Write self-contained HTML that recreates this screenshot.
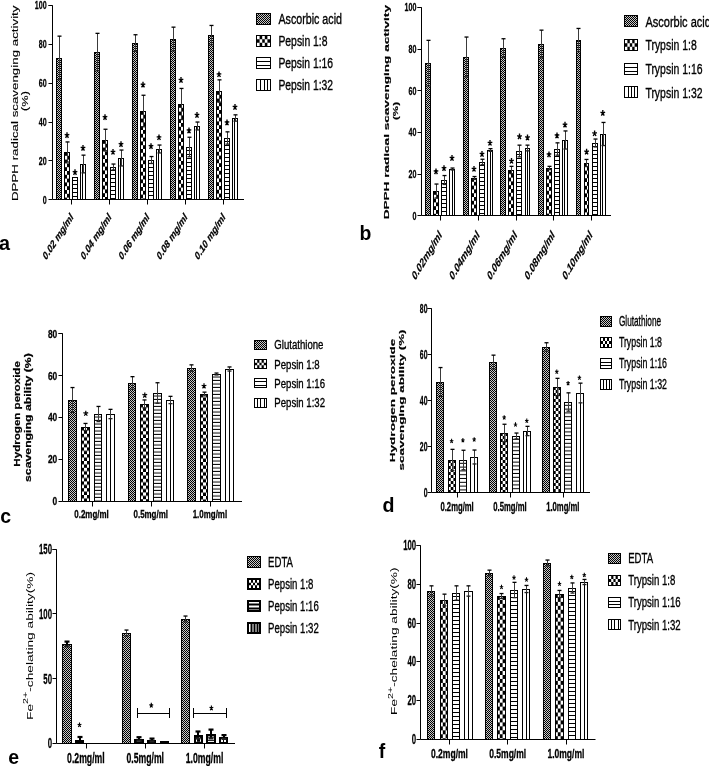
<!DOCTYPE html>
<html><head><meta charset="utf-8"><style>
html,body{margin:0;padding:0;background:#fff;overflow:hidden;}
svg{display:block;will-change:transform;}
text{font-family:"Liberation Sans",sans-serif;}
</style></head><body>
<svg width="709" height="766" viewBox="0 0 709 766">
<defs>
<pattern id="pAsc" patternUnits="userSpaceOnUse" width="2" height="2"><rect width="2" height="2" fill="#c8c8c8"/><rect width="1" height="1"/><rect x="1" y="1" width="1" height="1"/></pattern>
<pattern id="k1" patternUnits="userSpaceOnUse" x="64" y="152" width="6" height="7.6"><rect width="6" height="7.6" fill="#fff"/><rect width="3" height="3.8"/><rect x="3" y="3.8" width="3" height="3.8"/></pattern>
<pattern id="k2" patternUnits="userSpaceOnUse" x="72" y="177" width="4" height="4"><rect width="4" height="4" fill="#fff"/><rect y="3" width="4" height="1"/></pattern>
<pattern id="k4" patternUnits="userSpaceOnUse" x="102" y="140" width="6" height="7.6"><rect width="6" height="7.6" fill="#fff"/><rect width="3" height="3.8"/><rect x="3" y="3.8" width="3" height="3.8"/></pattern>
<pattern id="k5" patternUnits="userSpaceOnUse" x="110" y="167" width="4" height="4"><rect width="4" height="4" fill="#fff"/><rect y="3" width="4" height="1"/></pattern>
<pattern id="k7" patternUnits="userSpaceOnUse" x="140" y="111" width="6" height="7.6"><rect width="6" height="7.6" fill="#fff"/><rect width="3" height="3.8"/><rect x="3" y="3.8" width="3" height="3.8"/></pattern>
<pattern id="k8" patternUnits="userSpaceOnUse" x="148" y="160" width="4" height="4"><rect width="4" height="4" fill="#fff"/><rect y="3" width="4" height="1"/></pattern>
<pattern id="k10" patternUnits="userSpaceOnUse" x="178" y="104" width="6" height="7.6"><rect width="6" height="7.6" fill="#fff"/><rect width="3" height="3.8"/><rect x="3" y="3.8" width="3" height="3.8"/></pattern>
<pattern id="k11" patternUnits="userSpaceOnUse" x="186" y="147" width="4" height="4"><rect width="4" height="4" fill="#fff"/><rect y="3" width="4" height="1"/></pattern>
<pattern id="k13" patternUnits="userSpaceOnUse" x="216" y="91" width="6" height="7.6"><rect width="6" height="7.6" fill="#fff"/><rect width="3" height="3.8"/><rect x="3" y="3.8" width="3" height="3.8"/></pattern>
<pattern id="k14" patternUnits="userSpaceOnUse" x="224" y="138" width="4" height="4"><rect width="4" height="4" fill="#fff"/><rect y="3" width="4" height="1"/></pattern>
<pattern id="k16" patternUnits="userSpaceOnUse" x="433" y="191" width="6" height="7.6"><rect width="6" height="7.6" fill="#fff"/><rect width="3" height="3.8"/><rect x="3" y="3.8" width="3" height="3.8"/></pattern>
<pattern id="k17" patternUnits="userSpaceOnUse" x="441" y="180" width="4" height="4"><rect width="4" height="4" fill="#fff"/><rect y="3" width="4" height="1"/></pattern>
<pattern id="k19" patternUnits="userSpaceOnUse" x="471" y="178" width="6" height="7.6"><rect width="6" height="7.6" fill="#fff"/><rect width="3" height="3.8"/><rect x="3" y="3.8" width="3" height="3.8"/></pattern>
<pattern id="k20" patternUnits="userSpaceOnUse" x="479" y="162" width="4" height="4"><rect width="4" height="4" fill="#fff"/><rect y="3" width="4" height="1"/></pattern>
<pattern id="k22" patternUnits="userSpaceOnUse" x="508" y="170" width="6" height="7.6"><rect width="6" height="7.6" fill="#fff"/><rect width="3" height="3.8"/><rect x="3" y="3.8" width="3" height="3.8"/></pattern>
<pattern id="k23" patternUnits="userSpaceOnUse" x="516" y="151" width="4" height="4"><rect width="4" height="4" fill="#fff"/><rect y="3" width="4" height="1"/></pattern>
<pattern id="k25" patternUnits="userSpaceOnUse" x="546" y="168" width="6" height="7.6"><rect width="6" height="7.6" fill="#fff"/><rect width="3" height="3.8"/><rect x="3" y="3.8" width="3" height="3.8"/></pattern>
<pattern id="k26" patternUnits="userSpaceOnUse" x="554" y="149" width="4" height="4"><rect width="4" height="4" fill="#fff"/><rect y="3" width="4" height="1"/></pattern>
<pattern id="k28" patternUnits="userSpaceOnUse" x="584" y="163" width="6" height="7.6"><rect width="6" height="7.6" fill="#fff"/><rect width="3" height="3.8"/><rect x="3" y="3.8" width="3" height="3.8"/></pattern>
<pattern id="k29" patternUnits="userSpaceOnUse" x="592" y="143" width="4" height="4"><rect width="4" height="4" fill="#fff"/><rect y="3" width="4" height="1"/></pattern>
<pattern id="k31" patternUnits="userSpaceOnUse" x="81" y="427" width="6" height="6.8"><rect width="6" height="6.8" fill="#fff"/><rect width="3" height="3.4"/><rect x="3" y="3.4" width="3" height="3.4"/></pattern>
<pattern id="k32" patternUnits="userSpaceOnUse" x="94" y="414" width="4" height="3.5"><rect width="4" height="3.5" fill="#fff"/><rect y="2.5" width="4" height="1"/></pattern>
<pattern id="k34" patternUnits="userSpaceOnUse" x="140" y="404" width="6" height="6.8"><rect width="6" height="6.8" fill="#fff"/><rect width="3" height="3.4"/><rect x="3" y="3.4" width="3" height="3.4"/></pattern>
<pattern id="k35" patternUnits="userSpaceOnUse" x="153" y="393" width="4" height="3.5"><rect width="4" height="3.5" fill="#fff"/><rect y="2.5" width="4" height="1"/></pattern>
<pattern id="k37" patternUnits="userSpaceOnUse" x="200" y="394" width="6" height="6.8"><rect width="6" height="6.8" fill="#fff"/><rect width="3" height="3.4"/><rect x="3" y="3.4" width="3" height="3.4"/></pattern>
<pattern id="k38" patternUnits="userSpaceOnUse" x="212" y="374" width="4" height="3.5"><rect width="4" height="3.5" fill="#fff"/><rect y="2.5" width="4" height="1"/></pattern>
<pattern id="k40" patternUnits="userSpaceOnUse" x="448" y="460" width="5.4" height="6.0"><rect width="5.4" height="6.0" fill="#fff"/><rect width="2.7" height="3.0"/><rect x="2.7" y="3.0" width="2.7" height="3.0"/></pattern>
<pattern id="k41" patternUnits="userSpaceOnUse" x="459" y="460" width="4" height="3.8"><rect width="4" height="3.8" fill="#fff"/><rect y="2.8" width="4" height="1"/></pattern>
<pattern id="k43" patternUnits="userSpaceOnUse" x="500" y="433" width="5.4" height="6.0"><rect width="5.4" height="6.0" fill="#fff"/><rect width="2.7" height="3.0"/><rect x="2.7" y="3.0" width="2.7" height="3.0"/></pattern>
<pattern id="k44" patternUnits="userSpaceOnUse" x="512" y="436" width="4" height="3.8"><rect width="4" height="3.8" fill="#fff"/><rect y="2.8" width="4" height="1"/></pattern>
<pattern id="k46" patternUnits="userSpaceOnUse" x="553" y="387" width="5.4" height="6.0"><rect width="5.4" height="6.0" fill="#fff"/><rect width="2.7" height="3.0"/><rect x="2.7" y="3.0" width="2.7" height="3.0"/></pattern>
<pattern id="k47" patternUnits="userSpaceOnUse" x="564" y="402" width="4" height="3.8"><rect width="4" height="3.8" fill="#fff"/><rect y="2.8" width="4" height="1"/></pattern>
<pattern id="k49" patternUnits="userSpaceOnUse" x="75" y="740" width="6" height="6.8"><rect width="6" height="6.8" fill="#fff"/><rect width="3" height="3.4"/><rect x="3" y="3.4" width="3" height="3.4"/></pattern>
<pattern id="k50" patternUnits="userSpaceOnUse" x="134" y="739" width="6" height="6.8"><rect width="6" height="6.8" fill="#fff"/><rect width="3" height="3.4"/><rect x="3" y="3.4" width="3" height="3.4"/></pattern>
<pattern id="k51" patternUnits="userSpaceOnUse" x="147" y="740" width="4" height="3.55"><rect width="4" height="3.55" fill="#fff"/><rect y="2.55" width="4" height="1"/></pattern>
<pattern id="k53" patternUnits="userSpaceOnUse" x="194" y="735" width="6" height="6.8"><rect width="6" height="6.8" fill="#fff"/><rect width="3" height="3.4"/><rect x="3" y="3.4" width="3" height="3.4"/></pattern>
<pattern id="k54" patternUnits="userSpaceOnUse" x="206" y="734" width="4" height="3.55"><rect width="4" height="3.55" fill="#fff"/><rect y="2.55" width="4" height="1"/></pattern>
<pattern id="k56" patternUnits="userSpaceOnUse" x="440" y="600" width="5.6" height="7.9"><rect width="5.6" height="7.9" fill="#fff"/><rect width="2.8" height="3.95"/><rect x="2.8" y="3.95" width="2.8" height="3.95"/></pattern>
<pattern id="k57" patternUnits="userSpaceOnUse" x="452" y="593" width="4" height="4"><rect width="4" height="4" fill="#fff"/><rect y="3" width="4" height="1"/></pattern>
<pattern id="k59" patternUnits="userSpaceOnUse" x="497" y="596" width="5.6" height="7.9"><rect width="5.6" height="7.9" fill="#fff"/><rect width="2.8" height="3.95"/><rect x="2.8" y="3.95" width="2.8" height="3.95"/></pattern>
<pattern id="k60" patternUnits="userSpaceOnUse" x="510" y="590" width="4" height="4"><rect width="4" height="4" fill="#fff"/><rect y="3" width="4" height="1"/></pattern>
<pattern id="k62" patternUnits="userSpaceOnUse" x="555" y="594" width="5.6" height="7.9"><rect width="5.6" height="7.9" fill="#fff"/><rect width="2.8" height="3.95"/><rect x="2.8" y="3.95" width="2.8" height="3.95"/></pattern>
<pattern id="k63" patternUnits="userSpaceOnUse" x="568" y="588" width="4" height="4"><rect width="4" height="4" fill="#fff"/><rect y="3" width="4" height="1"/></pattern>
</defs>
<rect width="709" height="766" fill="#fff"/>
<path d="M48.5,5.5H52.5V199.5H244" fill="none" stroke="#000" stroke-width="1"/>
<line x1="48.5" y1="199.5" x2="52.5" y2="199.5" stroke="#000" stroke-width="1"/>
<text transform="translate(46.60,203.56) scale(0.610,1)" font-size="11.6" font-weight="bold" text-anchor="end" stroke="#000" stroke-width="0.3">0</text>
<line x1="48.5" y1="160.5" x2="52.5" y2="160.5" stroke="#000" stroke-width="1"/>
<text transform="translate(46.60,164.66) scale(0.610,1)" font-size="11.6" font-weight="bold" text-anchor="end" stroke="#000" stroke-width="0.3">20</text>
<line x1="48.5" y1="122.5" x2="52.5" y2="122.5" stroke="#000" stroke-width="1"/>
<text transform="translate(46.60,125.76) scale(0.610,1)" font-size="11.6" font-weight="bold" text-anchor="end" stroke="#000" stroke-width="0.3">40</text>
<line x1="48.5" y1="83.5" x2="52.5" y2="83.5" stroke="#000" stroke-width="1"/>
<text transform="translate(46.60,86.86) scale(0.610,1)" font-size="11.6" font-weight="bold" text-anchor="end" stroke="#000" stroke-width="0.3">60</text>
<line x1="48.5" y1="44.5" x2="52.5" y2="44.5" stroke="#000" stroke-width="1"/>
<text transform="translate(46.60,47.96) scale(0.610,1)" font-size="11.6" font-weight="bold" text-anchor="end" stroke="#000" stroke-width="0.3">80</text>
<line x1="48.5" y1="5.5" x2="52.5" y2="5.5" stroke="#000" stroke-width="1"/>
<text transform="translate(46.60,9.06) scale(0.610,1)" font-size="11.6" font-weight="bold" text-anchor="end" stroke="#000" stroke-width="0.3">100</text>
<line x1="71.5" y1="199.5" x2="71.5" y2="204.5" stroke="#000" stroke-width="1"/>
<line x1="109.5" y1="199.5" x2="109.5" y2="204.5" stroke="#000" stroke-width="1"/>
<line x1="147.5" y1="199.5" x2="147.5" y2="204.5" stroke="#000" stroke-width="1"/>
<line x1="185.5" y1="199.5" x2="185.5" y2="204.5" stroke="#000" stroke-width="1"/>
<line x1="223.5" y1="199.5" x2="223.5" y2="204.5" stroke="#000" stroke-width="1"/>
<rect x="56.5" y="58.5" width="5" height="141" fill="url(#pAsc)" stroke="#000" stroke-width="1"/>
<rect x="64.5" y="152.5" width="5" height="47" fill="url(#k1)" stroke="#000" stroke-width="1"/>
<rect x="72.5" y="177.5" width="5" height="22" fill="url(#k2)" stroke="#000" stroke-width="1"/>
<rect x="80.5" y="164.5" width="5" height="35" fill="#fff" stroke="#000" stroke-width="1"/>
<line x1="82.50" y1="164" x2="82.50" y2="200" stroke="#000" stroke-width="1"/>
<rect x="94.5" y="52.5" width="5" height="147" fill="url(#pAsc)" stroke="#000" stroke-width="1"/>
<rect x="102.5" y="140.5" width="5" height="59" fill="url(#k4)" stroke="#000" stroke-width="1"/>
<rect x="110.5" y="167.5" width="5" height="32" fill="url(#k5)" stroke="#000" stroke-width="1"/>
<rect x="118.5" y="158.5" width="5" height="41" fill="#fff" stroke="#000" stroke-width="1"/>
<line x1="120.50" y1="158" x2="120.50" y2="200" stroke="#000" stroke-width="1"/>
<rect x="132.5" y="43.5" width="5" height="156" fill="url(#pAsc)" stroke="#000" stroke-width="1"/>
<rect x="140.5" y="111.5" width="5" height="88" fill="url(#k7)" stroke="#000" stroke-width="1"/>
<rect x="148.5" y="160.5" width="5" height="39" fill="url(#k8)" stroke="#000" stroke-width="1"/>
<rect x="156.5" y="149.5" width="5" height="50" fill="#fff" stroke="#000" stroke-width="1"/>
<line x1="158.50" y1="149" x2="158.50" y2="200" stroke="#000" stroke-width="1"/>
<rect x="170.5" y="39.5" width="5" height="160" fill="url(#pAsc)" stroke="#000" stroke-width="1"/>
<rect x="178.5" y="104.5" width="5" height="95" fill="url(#k10)" stroke="#000" stroke-width="1"/>
<rect x="186.5" y="147.5" width="5" height="52" fill="url(#k11)" stroke="#000" stroke-width="1"/>
<rect x="194.5" y="126.5" width="5" height="73" fill="#fff" stroke="#000" stroke-width="1"/>
<line x1="196.50" y1="126" x2="196.50" y2="200" stroke="#000" stroke-width="1"/>
<rect x="208.5" y="35.5" width="5" height="164" fill="url(#pAsc)" stroke="#000" stroke-width="1"/>
<rect x="216.5" y="91.5" width="5" height="108" fill="url(#k13)" stroke="#000" stroke-width="1"/>
<rect x="224.5" y="138.5" width="5" height="61" fill="url(#k14)" stroke="#000" stroke-width="1"/>
<rect x="232.5" y="118.5" width="5" height="81" fill="#fff" stroke="#000" stroke-width="1"/>
<line x1="234.50" y1="118" x2="234.50" y2="200" stroke="#000" stroke-width="1"/>
<line x1="59.5" y1="36.1" x2="59.5" y2="79.9" stroke="#3a3a3a" stroke-width="1"/>
<rect x="57.5" y="35.5" width="4" height="1.3"/>
<rect x="57.5" y="79.2" width="4" height="1.3" fill="#222"/>
<line x1="67.5" y1="141.9" x2="67.5" y2="162.1" stroke="#3a3a3a" stroke-width="1"/>
<rect x="65.5" y="141.3" width="4" height="1.3"/>
<rect x="65.5" y="161.4" width="4" height="1.3" fill="#222"/>
<line x1="83.5" y1="155.1" x2="83.5" y2="172.9" stroke="#3a3a3a" stroke-width="1"/>
<rect x="81.5" y="154.5" width="4" height="1.3"/>
<rect x="81.5" y="172.2" width="4" height="1.3" fill="#222"/>
<line x1="97.5" y1="33.4" x2="97.5" y2="70.6" stroke="#3a3a3a" stroke-width="1"/>
<rect x="95.5" y="32.7" width="4" height="1.3"/>
<rect x="95.5" y="70.0" width="4" height="1.3" fill="#222"/>
<line x1="105.5" y1="129.3" x2="105.5" y2="150.7" stroke="#3a3a3a" stroke-width="1"/>
<rect x="103.5" y="128.6" width="4" height="1.3"/>
<rect x="103.5" y="150.1" width="4" height="1.3" fill="#222"/>
<line x1="113.5" y1="164.1" x2="113.5" y2="169.9" stroke="#3a3a3a" stroke-width="1"/>
<rect x="111.5" y="163.4" width="4" height="1.3"/>
<rect x="111.5" y="169.3" width="4" height="1.3" fill="#222"/>
<line x1="121.5" y1="150.1" x2="121.5" y2="165.9" stroke="#3a3a3a" stroke-width="1"/>
<rect x="119.5" y="149.4" width="4" height="1.3"/>
<rect x="119.5" y="165.3" width="4" height="1.3" fill="#222"/>
<line x1="135.5" y1="34.8" x2="135.5" y2="51.2" stroke="#3a3a3a" stroke-width="1"/>
<rect x="133.5" y="34.1" width="4" height="1.3"/>
<rect x="133.5" y="50.6" width="4" height="1.3" fill="#222"/>
<line x1="143.5" y1="95.2" x2="143.5" y2="126.8" stroke="#3a3a3a" stroke-width="1"/>
<rect x="141.5" y="94.6" width="4" height="1.3"/>
<rect x="141.5" y="126.1" width="4" height="1.3" fill="#222"/>
<line x1="151.5" y1="156.5" x2="151.5" y2="163.5" stroke="#3a3a3a" stroke-width="1"/>
<rect x="149.5" y="155.9" width="4" height="1.3"/>
<rect x="149.5" y="162.8" width="4" height="1.3" fill="#222"/>
<line x1="159.5" y1="145.0" x2="159.5" y2="153.0" stroke="#3a3a3a" stroke-width="1"/>
<rect x="157.5" y="144.4" width="4" height="1.3"/>
<rect x="157.5" y="152.3" width="4" height="1.3" fill="#222"/>
<line x1="173.5" y1="27.2" x2="173.5" y2="50.8" stroke="#3a3a3a" stroke-width="1"/>
<rect x="171.5" y="26.5" width="4" height="1.3"/>
<rect x="171.5" y="50.2" width="4" height="1.3" fill="#222"/>
<line x1="181.5" y1="88.4" x2="181.5" y2="119.6" stroke="#3a3a3a" stroke-width="1"/>
<rect x="179.5" y="87.8" width="4" height="1.3"/>
<rect x="179.5" y="118.9" width="4" height="1.3" fill="#222"/>
<line x1="189.5" y1="137.3" x2="189.5" y2="156.7" stroke="#3a3a3a" stroke-width="1"/>
<rect x="187.5" y="136.6" width="4" height="1.3"/>
<rect x="187.5" y="156.1" width="4" height="1.3" fill="#222"/>
<line x1="197.5" y1="122.1" x2="197.5" y2="129.9" stroke="#3a3a3a" stroke-width="1"/>
<rect x="195.5" y="121.4" width="4" height="1.3"/>
<rect x="195.5" y="129.3" width="4" height="1.3" fill="#222"/>
<line x1="211.5" y1="25.4" x2="211.5" y2="44.6" stroke="#3a3a3a" stroke-width="1"/>
<rect x="209.5" y="24.8" width="4" height="1.3"/>
<rect x="209.5" y="43.9" width="4" height="1.3" fill="#222"/>
<line x1="219.5" y1="79.9" x2="219.5" y2="102.1" stroke="#3a3a3a" stroke-width="1"/>
<rect x="217.5" y="79.2" width="4" height="1.3"/>
<rect x="217.5" y="101.5" width="4" height="1.3" fill="#222"/>
<line x1="227.5" y1="131.8" x2="227.5" y2="144.2" stroke="#3a3a3a" stroke-width="1"/>
<rect x="225.5" y="131.2" width="4" height="1.3"/>
<rect x="225.5" y="143.5" width="4" height="1.3" fill="#222"/>
<line x1="235.5" y1="114.9" x2="235.5" y2="121.1" stroke="#3a3a3a" stroke-width="1"/>
<rect x="233.5" y="114.2" width="4" height="1.3"/>
<rect x="233.5" y="120.5" width="4" height="1.3" fill="#222"/>
<path d="M67.00,135.30L67.00,132.20M67.00,135.30L69.30,134.34M67.00,135.30L68.42,137.81M67.00,135.30L65.58,137.81M67.00,135.30L64.70,134.34" stroke="#000" stroke-width="1.35" fill="none"/>
<path d="M75.00,172.40L75.00,169.30M75.00,172.40L77.30,171.44M75.00,172.40L76.42,174.91M75.00,172.40L73.58,174.91M75.00,172.40L72.70,171.44" stroke="#000" stroke-width="1.35" fill="none"/>
<path d="M83.00,148.10L83.00,145.00M83.00,148.10L85.30,147.14M83.00,148.10L84.42,150.61M83.00,148.10L81.58,150.61M83.00,148.10L80.70,147.14" stroke="#000" stroke-width="1.35" fill="none"/>
<path d="M105.00,117.30L105.00,114.20M105.00,117.30L107.30,116.34M105.00,117.30L106.42,119.81M105.00,117.30L103.58,119.81M105.00,117.30L102.70,116.34" stroke="#000" stroke-width="1.35" fill="none"/>
<path d="M113.00,152.00L113.00,148.90M113.00,152.00L115.30,151.04M113.00,152.00L114.42,154.51M113.00,152.00L111.58,154.51M113.00,152.00L110.70,151.04" stroke="#000" stroke-width="1.35" fill="none"/>
<path d="M121.00,144.30L121.00,141.20M121.00,144.30L123.30,143.34M121.00,144.30L122.42,146.81M121.00,144.30L119.58,146.81M121.00,144.30L118.70,143.34" stroke="#000" stroke-width="1.35" fill="none"/>
<path d="M143.00,84.90L143.00,81.80M143.00,84.90L145.30,83.94M143.00,84.90L144.42,87.41M143.00,84.90L141.58,87.41M143.00,84.90L140.70,83.94" stroke="#000" stroke-width="1.35" fill="none"/>
<path d="M151.00,146.30L151.00,143.20M151.00,146.30L153.30,145.34M151.00,146.30L152.42,148.81M151.00,146.30L149.58,148.81M151.00,146.30L148.70,145.34" stroke="#000" stroke-width="1.35" fill="none"/>
<path d="M159.00,137.50L159.00,134.40M159.00,137.50L161.30,136.54M159.00,137.50L160.42,140.01M159.00,137.50L157.58,140.01M159.00,137.50L156.70,136.54" stroke="#000" stroke-width="1.35" fill="none"/>
<path d="M181.00,80.20L181.00,77.10M181.00,80.20L183.30,79.24M181.00,80.20L182.42,82.71M181.00,80.20L179.58,82.71M181.00,80.20L178.70,79.24" stroke="#000" stroke-width="1.35" fill="none"/>
<path d="M189.00,130.70L189.00,127.60M189.00,130.70L191.30,129.74M189.00,130.70L190.42,133.21M189.00,130.70L187.58,133.21M189.00,130.70L186.70,129.74" stroke="#000" stroke-width="1.35" fill="none"/>
<path d="M197.00,115.20L197.00,112.10M197.00,115.20L199.30,114.24M197.00,115.20L198.42,117.71M197.00,115.20L195.58,117.71M197.00,115.20L194.70,114.24" stroke="#000" stroke-width="1.35" fill="none"/>
<path d="M219.00,74.50L219.00,71.40M219.00,74.50L221.30,73.54M219.00,74.50L220.42,77.01M219.00,74.50L217.58,77.01M219.00,74.50L216.70,73.54" stroke="#000" stroke-width="1.35" fill="none"/>
<path d="M227.00,122.70L227.00,119.60M227.00,122.70L229.30,121.74M227.00,122.70L228.42,125.21M227.00,122.70L225.58,125.21M227.00,122.70L224.70,121.74" stroke="#000" stroke-width="1.35" fill="none"/>
<path d="M235.00,107.20L235.00,104.10M235.00,107.20L237.30,106.24M235.00,107.20L236.42,109.71M235.00,107.20L233.58,109.71M235.00,107.20L232.70,106.24" stroke="#000" stroke-width="1.35" fill="none"/>
<path d="M417.5,7.5H421.5V215.5H611" fill="none" stroke="#000" stroke-width="1"/>
<line x1="417.5" y1="215.5" x2="421.5" y2="215.5" stroke="#000" stroke-width="1"/>
<text transform="translate(416.40,219.63) scale(0.600,1)" font-size="11.8" font-weight="bold" text-anchor="end" stroke="#000" stroke-width="0.3">0</text>
<line x1="417.5" y1="174.5" x2="421.5" y2="174.5" stroke="#000" stroke-width="1"/>
<text transform="translate(416.40,177.98) scale(0.600,1)" font-size="11.8" font-weight="bold" text-anchor="end" stroke="#000" stroke-width="0.3">20</text>
<line x1="417.5" y1="132.5" x2="421.5" y2="132.5" stroke="#000" stroke-width="1"/>
<text transform="translate(416.40,136.33) scale(0.600,1)" font-size="11.8" font-weight="bold" text-anchor="end" stroke="#000" stroke-width="0.3">40</text>
<line x1="417.5" y1="90.5" x2="421.5" y2="90.5" stroke="#000" stroke-width="1"/>
<text transform="translate(416.40,94.68) scale(0.600,1)" font-size="11.8" font-weight="bold" text-anchor="end" stroke="#000" stroke-width="0.3">60</text>
<line x1="417.5" y1="49.5" x2="421.5" y2="49.5" stroke="#000" stroke-width="1"/>
<text transform="translate(416.40,53.03) scale(0.600,1)" font-size="11.8" font-weight="bold" text-anchor="end" stroke="#000" stroke-width="0.3">80</text>
<line x1="417.5" y1="7.5" x2="421.5" y2="7.5" stroke="#000" stroke-width="1"/>
<text transform="translate(416.40,11.38) scale(0.600,1)" font-size="11.8" font-weight="bold" text-anchor="end" stroke="#000" stroke-width="0.3">100</text>
<line x1="440.5" y1="215.5" x2="440.5" y2="220.5" stroke="#000" stroke-width="1"/>
<line x1="478.5" y1="215.5" x2="478.5" y2="220.5" stroke="#000" stroke-width="1"/>
<line x1="516.5" y1="215.5" x2="516.5" y2="220.5" stroke="#000" stroke-width="1"/>
<line x1="553.5" y1="215.5" x2="553.5" y2="220.5" stroke="#000" stroke-width="1"/>
<line x1="591.5" y1="215.5" x2="591.5" y2="220.5" stroke="#000" stroke-width="1"/>
<rect x="425.5" y="63.5" width="5" height="152" fill="url(#pAsc)" stroke="#000" stroke-width="1"/>
<rect x="433.5" y="191.5" width="5" height="24" fill="url(#k16)" stroke="#000" stroke-width="1"/>
<rect x="441.5" y="180.5" width="5" height="35" fill="url(#k17)" stroke="#000" stroke-width="1"/>
<rect x="449.5" y="169.5" width="5" height="46" fill="#fff" stroke="#000" stroke-width="1"/>
<line x1="452.50" y1="169" x2="452.50" y2="216" stroke="#000" stroke-width="1"/>
<rect x="463.5" y="57.5" width="5" height="158" fill="url(#pAsc)" stroke="#000" stroke-width="1"/>
<rect x="471.5" y="178.5" width="5" height="37" fill="url(#k19)" stroke="#000" stroke-width="1"/>
<rect x="479.5" y="162.5" width="5" height="53" fill="url(#k20)" stroke="#000" stroke-width="1"/>
<rect x="487.5" y="150.5" width="5" height="65" fill="#fff" stroke="#000" stroke-width="1"/>
<line x1="490.50" y1="150" x2="490.50" y2="216" stroke="#000" stroke-width="1"/>
<rect x="500.5" y="48.5" width="5" height="167" fill="url(#pAsc)" stroke="#000" stroke-width="1"/>
<rect x="508.5" y="170.5" width="5" height="45" fill="url(#k22)" stroke="#000" stroke-width="1"/>
<rect x="516.5" y="151.5" width="5" height="64" fill="url(#k23)" stroke="#000" stroke-width="1"/>
<rect x="525.5" y="148.5" width="4" height="67" fill="#fff" stroke="#000" stroke-width="1"/>
<line x1="527.50" y1="148" x2="527.50" y2="216" stroke="#000" stroke-width="1"/>
<rect x="538.5" y="44.5" width="5" height="171" fill="url(#pAsc)" stroke="#000" stroke-width="1"/>
<rect x="546.5" y="168.5" width="5" height="47" fill="url(#k25)" stroke="#000" stroke-width="1"/>
<rect x="554.5" y="149.5" width="5" height="66" fill="url(#k26)" stroke="#000" stroke-width="1"/>
<rect x="562.5" y="140.5" width="5" height="75" fill="#fff" stroke="#000" stroke-width="1"/>
<line x1="564.50" y1="140" x2="564.50" y2="216" stroke="#000" stroke-width="1"/>
<rect x="576.5" y="40.5" width="4" height="175" fill="url(#pAsc)" stroke="#000" stroke-width="1"/>
<rect x="584.5" y="163.5" width="4" height="52" fill="url(#k28)" stroke="#000" stroke-width="1"/>
<rect x="592.5" y="143.5" width="5" height="72" fill="url(#k29)" stroke="#000" stroke-width="1"/>
<rect x="600.5" y="134.5" width="5" height="81" fill="#fff" stroke="#000" stroke-width="1"/>
<line x1="602.50" y1="134" x2="602.50" y2="216" stroke="#000" stroke-width="1"/>
<line x1="428.5" y1="40.4" x2="428.5" y2="85.6" stroke="#3a3a3a" stroke-width="1"/>
<rect x="426.5" y="39.7" width="4" height="1.3"/>
<rect x="426.5" y="85.0" width="4" height="1.3" fill="#222"/>
<line x1="436.5" y1="184.1" x2="436.5" y2="197.9" stroke="#3a3a3a" stroke-width="1"/>
<rect x="434.5" y="183.4" width="4" height="1.3"/>
<rect x="434.5" y="197.3" width="4" height="1.3" fill="#222"/>
<line x1="444.5" y1="175.5" x2="444.5" y2="184.5" stroke="#3a3a3a" stroke-width="1"/>
<rect x="442.5" y="174.9" width="4" height="1.3"/>
<rect x="442.5" y="183.8" width="4" height="1.3" fill="#222"/>
<line x1="452.5" y1="168.0" x2="452.5" y2="170.0" stroke="#3a3a3a" stroke-width="1"/>
<rect x="450.5" y="167.4" width="4" height="1.3"/>
<rect x="450.5" y="169.3" width="4" height="1.3" fill="#222"/>
<line x1="466.5" y1="37.0" x2="466.5" y2="77.0" stroke="#3a3a3a" stroke-width="1"/>
<rect x="464.5" y="36.4" width="4" height="1.3"/>
<rect x="464.5" y="76.3" width="4" height="1.3" fill="#222"/>
<line x1="474.5" y1="176.6" x2="474.5" y2="179.4" stroke="#3a3a3a" stroke-width="1"/>
<rect x="472.5" y="175.9" width="4" height="1.3"/>
<rect x="472.5" y="178.8" width="4" height="1.3" fill="#222"/>
<line x1="482.5" y1="159.3" x2="482.5" y2="164.7" stroke="#3a3a3a" stroke-width="1"/>
<rect x="480.5" y="158.6" width="4" height="1.3"/>
<rect x="480.5" y="164.1" width="4" height="1.3" fill="#222"/>
<line x1="490.5" y1="148.7" x2="490.5" y2="151.3" stroke="#3a3a3a" stroke-width="1"/>
<rect x="488.5" y="148.0" width="4" height="1.3"/>
<rect x="488.5" y="150.7" width="4" height="1.3" fill="#222"/>
<line x1="503.5" y1="38.7" x2="503.5" y2="57.3" stroke="#3a3a3a" stroke-width="1"/>
<rect x="501.5" y="38.1" width="4" height="1.3"/>
<rect x="501.5" y="56.6" width="4" height="1.3" fill="#222"/>
<line x1="511.5" y1="166.4" x2="511.5" y2="173.6" stroke="#3a3a3a" stroke-width="1"/>
<rect x="509.5" y="165.7" width="4" height="1.3"/>
<rect x="509.5" y="173.0" width="4" height="1.3" fill="#222"/>
<line x1="519.5" y1="145.1" x2="519.5" y2="156.9" stroke="#3a3a3a" stroke-width="1"/>
<rect x="517.5" y="144.5" width="4" height="1.3"/>
<rect x="517.5" y="156.2" width="4" height="1.3" fill="#222"/>
<line x1="527.5" y1="145.1" x2="527.5" y2="150.9" stroke="#3a3a3a" stroke-width="1"/>
<rect x="525.5" y="144.5" width="4" height="1.3"/>
<rect x="525.5" y="150.2" width="4" height="1.3" fill="#222"/>
<line x1="541.5" y1="30.2" x2="541.5" y2="57.8" stroke="#3a3a3a" stroke-width="1"/>
<rect x="539.5" y="29.5" width="4" height="1.3"/>
<rect x="539.5" y="57.2" width="4" height="1.3" fill="#222"/>
<line x1="549.5" y1="166.4" x2="549.5" y2="169.6" stroke="#3a3a3a" stroke-width="1"/>
<rect x="547.5" y="165.7" width="4" height="1.3"/>
<rect x="547.5" y="169.0" width="4" height="1.3" fill="#222"/>
<line x1="557.5" y1="142.8" x2="557.5" y2="155.2" stroke="#3a3a3a" stroke-width="1"/>
<rect x="555.5" y="142.2" width="4" height="1.3"/>
<rect x="555.5" y="154.5" width="4" height="1.3" fill="#222"/>
<line x1="565.5" y1="131.0" x2="565.5" y2="149.0" stroke="#3a3a3a" stroke-width="1"/>
<rect x="563.5" y="130.3" width="4" height="1.3"/>
<rect x="563.5" y="148.4" width="4" height="1.3" fill="#222"/>
<line x1="578.5" y1="28.5" x2="578.5" y2="51.5" stroke="#3a3a3a" stroke-width="1"/>
<rect x="576.5" y="27.8" width="4" height="1.3"/>
<rect x="576.5" y="50.9" width="4" height="1.3" fill="#222"/>
<line x1="586.5" y1="159.5" x2="586.5" y2="166.5" stroke="#3a3a3a" stroke-width="1"/>
<rect x="584.5" y="158.8" width="4" height="1.3"/>
<rect x="584.5" y="165.9" width="4" height="1.3" fill="#222"/>
<line x1="595.5" y1="139.1" x2="595.5" y2="146.9" stroke="#3a3a3a" stroke-width="1"/>
<rect x="593.5" y="138.4" width="4" height="1.3"/>
<rect x="593.5" y="146.3" width="4" height="1.3" fill="#222"/>
<line x1="603.5" y1="122.4" x2="603.5" y2="145.6" stroke="#3a3a3a" stroke-width="1"/>
<rect x="601.5" y="121.8" width="4" height="1.3"/>
<rect x="601.5" y="144.9" width="4" height="1.3" fill="#222"/>
<path d="M436.00,171.60L436.00,168.50M436.00,171.60L438.30,170.64M436.00,171.60L437.42,174.11M436.00,171.60L434.58,174.11M436.00,171.60L433.70,170.64" stroke="#000" stroke-width="1.35" fill="none"/>
<path d="M444.00,168.30L444.00,165.20M444.00,168.30L446.30,167.34M444.00,168.30L445.42,170.81M444.00,168.30L442.58,170.81M444.00,168.30L441.70,167.34" stroke="#000" stroke-width="1.35" fill="none"/>
<path d="M452.00,158.20L452.00,155.10M452.00,158.20L454.30,157.24M452.00,158.20L453.42,160.71M452.00,158.20L450.58,160.71M452.00,158.20L449.70,157.24" stroke="#000" stroke-width="1.35" fill="none"/>
<path d="M474.00,169.00L474.00,165.90M474.00,169.00L476.30,168.04M474.00,169.00L475.42,171.51M474.00,169.00L472.58,171.51M474.00,169.00L471.70,168.04" stroke="#000" stroke-width="1.35" fill="none"/>
<path d="M482.00,154.20L482.00,151.10M482.00,154.20L484.30,153.24M482.00,154.20L483.42,156.71M482.00,154.20L480.58,156.71M482.00,154.20L479.70,153.24" stroke="#000" stroke-width="1.35" fill="none"/>
<path d="M490.00,143.00L490.00,139.90M490.00,143.00L492.30,142.04M490.00,143.00L491.42,145.51M490.00,143.00L488.58,145.51M490.00,143.00L487.70,142.04" stroke="#000" stroke-width="1.35" fill="none"/>
<path d="M511.50,161.00L511.50,157.90M511.50,161.00L513.80,160.04M511.50,161.00L512.92,163.51M511.50,161.00L510.08,163.51M511.50,161.00L509.20,160.04" stroke="#000" stroke-width="1.35" fill="none"/>
<path d="M519.50,136.60L519.50,133.50M519.50,136.60L521.80,135.64M519.50,136.60L520.92,139.11M519.50,136.60L518.08,139.11M519.50,136.60L517.20,135.64" stroke="#000" stroke-width="1.35" fill="none"/>
<path d="M527.50,137.70L527.50,134.60M527.50,137.70L529.80,136.74M527.50,137.70L528.92,140.21M527.50,137.70L526.08,140.21M527.50,137.70L525.20,136.74" stroke="#000" stroke-width="1.35" fill="none"/>
<path d="M549.00,154.60L549.00,151.50M549.00,154.60L551.30,153.64M549.00,154.60L550.42,157.11M549.00,154.60L547.58,157.11M549.00,154.60L546.70,153.64" stroke="#000" stroke-width="1.35" fill="none"/>
<path d="M557.00,135.70L557.00,132.60M557.00,135.70L559.30,134.74M557.00,135.70L558.42,138.21M557.00,135.70L555.58,138.21M557.00,135.70L554.70,134.74" stroke="#000" stroke-width="1.35" fill="none"/>
<path d="M565.00,124.90L565.00,121.80M565.00,124.90L567.30,123.94M565.00,124.90L566.42,127.41M565.00,124.90L563.58,127.41M565.00,124.90L562.70,123.94" stroke="#000" stroke-width="1.35" fill="none"/>
<path d="M586.60,151.80L586.60,148.70M586.60,151.80L588.90,150.84M586.60,151.80L588.02,154.31M586.60,151.80L585.18,154.31M586.60,151.80L584.30,150.84" stroke="#000" stroke-width="1.35" fill="none"/>
<path d="M594.60,133.50L594.60,130.40M594.60,133.50L596.90,132.54M594.60,133.50L596.02,136.01M594.60,133.50L593.18,136.01M594.60,133.50L592.30,132.54" stroke="#000" stroke-width="1.35" fill="none"/>
<path d="M602.80,113.10L602.80,110.00M602.80,113.10L605.10,112.14M602.80,113.10L604.22,115.61M602.80,113.10L601.38,115.61M602.80,113.10L600.50,112.14" stroke="#000" stroke-width="1.35" fill="none"/>
<path d="M58.5,333.5H62.5V501.5H242" fill="none" stroke="#000" stroke-width="1"/>
<line x1="58.5" y1="501.5" x2="62.5" y2="501.5" stroke="#000" stroke-width="1"/>
<text transform="translate(57.20,505.43) scale(0.710,1)" font-size="11.8" font-weight="bold" text-anchor="end" stroke="#000" stroke-width="0.3">0</text>
<line x1="58.5" y1="459.5" x2="62.5" y2="459.5" stroke="#000" stroke-width="1"/>
<text transform="translate(57.20,463.45) scale(0.710,1)" font-size="11.8" font-weight="bold" text-anchor="end" stroke="#000" stroke-width="0.3">20</text>
<line x1="58.5" y1="417.5" x2="62.5" y2="417.5" stroke="#000" stroke-width="1"/>
<text transform="translate(57.20,421.48) scale(0.710,1)" font-size="11.8" font-weight="bold" text-anchor="end" stroke="#000" stroke-width="0.3">40</text>
<line x1="58.5" y1="375.5" x2="62.5" y2="375.5" stroke="#000" stroke-width="1"/>
<text transform="translate(57.20,379.50) scale(0.710,1)" font-size="11.8" font-weight="bold" text-anchor="end" stroke="#000" stroke-width="0.3">60</text>
<line x1="58.5" y1="333.5" x2="62.5" y2="333.5" stroke="#000" stroke-width="1"/>
<text transform="translate(57.20,337.53) scale(0.710,1)" font-size="11.8" font-weight="bold" text-anchor="end" stroke="#000" stroke-width="0.3">80</text>
<line x1="92.5" y1="501.5" x2="92.5" y2="506.5" stroke="#000" stroke-width="1"/>
<line x1="151.5" y1="501.5" x2="151.5" y2="506.5" stroke="#000" stroke-width="1"/>
<line x1="210.5" y1="501.5" x2="210.5" y2="506.5" stroke="#000" stroke-width="1"/>
<rect x="68.5" y="400.5" width="8" height="101" fill="url(#pAsc)" stroke="#000" stroke-width="1"/>
<rect x="81.5" y="427.5" width="8" height="74" fill="url(#k31)" stroke="#000" stroke-width="1"/>
<rect x="94.5" y="414.5" width="7" height="87" fill="url(#k32)" stroke="#000" stroke-width="1"/>
<rect x="106.5" y="414.5" width="8" height="87" fill="#fff" stroke="#000" stroke-width="1"/>
<line x1="110.50" y1="414" x2="110.50" y2="502" stroke="#000" stroke-width="1"/>
<rect x="128.5" y="383.5" width="7" height="118" fill="url(#pAsc)" stroke="#000" stroke-width="1"/>
<rect x="140.5" y="404.5" width="8" height="97" fill="url(#k34)" stroke="#000" stroke-width="1"/>
<rect x="153.5" y="393.5" width="8" height="108" fill="url(#k35)" stroke="#000" stroke-width="1"/>
<rect x="166.5" y="400.5" width="7" height="101" fill="#fff" stroke="#000" stroke-width="1"/>
<line x1="170.50" y1="400" x2="170.50" y2="502" stroke="#000" stroke-width="1"/>
<rect x="187.5" y="368.5" width="8" height="133" fill="url(#pAsc)" stroke="#000" stroke-width="1"/>
<rect x="200.5" y="394.5" width="7" height="107" fill="url(#k37)" stroke="#000" stroke-width="1"/>
<rect x="212.5" y="374.5" width="8" height="127" fill="url(#k38)" stroke="#000" stroke-width="1"/>
<rect x="225.5" y="369.5" width="8" height="132" fill="#fff" stroke="#000" stroke-width="1"/>
<line x1="229.50" y1="369" x2="229.50" y2="502" stroke="#000" stroke-width="1"/>
<line x1="72.5" y1="387.5" x2="72.5" y2="412.5" stroke="#3a3a3a" stroke-width="1"/>
<rect x="70.5" y="386.9" width="4" height="1.3"/>
<rect x="70.5" y="411.8" width="4" height="1.3" fill="#222"/>
<line x1="85.5" y1="423.4" x2="85.5" y2="430.6" stroke="#3a3a3a" stroke-width="1"/>
<rect x="83.5" y="422.8" width="4" height="1.3"/>
<rect x="83.5" y="429.9" width="4" height="1.3" fill="#222"/>
<line x1="98.5" y1="406.4" x2="98.5" y2="421.6" stroke="#3a3a3a" stroke-width="1"/>
<rect x="96.5" y="405.8" width="4" height="1.3"/>
<rect x="96.5" y="420.9" width="4" height="1.3" fill="#222"/>
<line x1="110.5" y1="409.4" x2="110.5" y2="418.6" stroke="#3a3a3a" stroke-width="1"/>
<rect x="108.5" y="408.7" width="4" height="1.3"/>
<rect x="108.5" y="418.0" width="4" height="1.3" fill="#222"/>
<line x1="132.5" y1="376.6" x2="132.5" y2="389.4" stroke="#3a3a3a" stroke-width="1"/>
<rect x="130.5" y="376.0" width="4" height="1.3"/>
<rect x="130.5" y="388.7" width="4" height="1.3" fill="#222"/>
<line x1="144.5" y1="399.9" x2="144.5" y2="408.1" stroke="#3a3a3a" stroke-width="1"/>
<rect x="142.5" y="399.3" width="4" height="1.3"/>
<rect x="142.5" y="407.4" width="4" height="1.3" fill="#222"/>
<line x1="157.5" y1="382.7" x2="157.5" y2="403.3" stroke="#3a3a3a" stroke-width="1"/>
<rect x="155.5" y="382.1" width="4" height="1.3"/>
<rect x="155.5" y="402.6" width="4" height="1.3" fill="#222"/>
<line x1="170.5" y1="396.4" x2="170.5" y2="403.6" stroke="#3a3a3a" stroke-width="1"/>
<rect x="168.5" y="395.7" width="4" height="1.3"/>
<rect x="168.5" y="403.0" width="4" height="1.3" fill="#222"/>
<line x1="191.5" y1="364.9" x2="191.5" y2="371.1" stroke="#3a3a3a" stroke-width="1"/>
<rect x="189.5" y="364.2" width="4" height="1.3"/>
<rect x="189.5" y="370.5" width="4" height="1.3" fill="#222"/>
<line x1="204.5" y1="392.2" x2="204.5" y2="395.8" stroke="#3a3a3a" stroke-width="1"/>
<rect x="202.5" y="391.5" width="4" height="1.3"/>
<rect x="202.5" y="395.2" width="4" height="1.3" fill="#222"/>
<line x1="216.5" y1="373.1" x2="216.5" y2="374.9" stroke="#3a3a3a" stroke-width="1"/>
<rect x="214.5" y="372.4" width="4" height="1.3"/>
<rect x="214.5" y="374.3" width="4" height="1.3" fill="#222"/>
<line x1="229.5" y1="367.0" x2="229.5" y2="371.0" stroke="#3a3a3a" stroke-width="1"/>
<rect x="227.5" y="366.3" width="4" height="1.3"/>
<rect x="227.5" y="370.4" width="4" height="1.3" fill="#222"/>
<path d="M85.80,413.50L85.80,410.72M85.80,413.50L88.18,412.64M85.80,413.50L87.27,415.75M85.80,413.50L84.33,415.75M85.80,413.50L83.42,412.64" stroke="#000" stroke-width="1.21" fill="none"/>
<path d="M144.80,395.30L144.80,392.52M144.80,395.30L147.18,394.44M144.80,395.30L146.27,397.55M144.80,395.30L143.33,397.55M144.80,395.30L142.42,394.44" stroke="#000" stroke-width="1.21" fill="none"/>
<path d="M204.00,386.10L204.00,383.32M204.00,386.10L206.38,385.24M204.00,386.10L205.47,388.35M204.00,386.10L202.53,388.35M204.00,386.10L201.62,385.24" stroke="#000" stroke-width="1.21" fill="none"/>
<path d="M427.5,308.5H431.5V492.5H590" fill="none" stroke="#000" stroke-width="1"/>
<line x1="427.5" y1="492.5" x2="431.5" y2="492.5" stroke="#000" stroke-width="1"/>
<text transform="translate(427.50,496.92) scale(0.520,1)" font-size="13.2" font-weight="bold" text-anchor="end" stroke="#000" stroke-width="0.3">0</text>
<line x1="427.5" y1="446.5" x2="431.5" y2="446.5" stroke="#000" stroke-width="1"/>
<text transform="translate(427.50,450.97) scale(0.520,1)" font-size="13.2" font-weight="bold" text-anchor="end" stroke="#000" stroke-width="0.3">20</text>
<line x1="427.5" y1="400.5" x2="431.5" y2="400.5" stroke="#000" stroke-width="1"/>
<text transform="translate(427.50,405.02) scale(0.520,1)" font-size="13.2" font-weight="bold" text-anchor="end" stroke="#000" stroke-width="0.3">40</text>
<line x1="427.5" y1="354.5" x2="431.5" y2="354.5" stroke="#000" stroke-width="1"/>
<text transform="translate(427.50,359.07) scale(0.520,1)" font-size="13.2" font-weight="bold" text-anchor="end" stroke="#000" stroke-width="0.3">60</text>
<line x1="427.5" y1="308.5" x2="431.5" y2="308.5" stroke="#000" stroke-width="1"/>
<text transform="translate(427.50,313.12) scale(0.520,1)" font-size="13.2" font-weight="bold" text-anchor="end" stroke="#000" stroke-width="0.3">80</text>
<line x1="457.5" y1="492.5" x2="457.5" y2="497.5" stroke="#000" stroke-width="1"/>
<line x1="510.5" y1="492.5" x2="510.5" y2="497.5" stroke="#000" stroke-width="1"/>
<line x1="563.5" y1="492.5" x2="563.5" y2="497.5" stroke="#000" stroke-width="1"/>
<rect x="436.5" y="382.5" width="7" height="110" fill="url(#pAsc)" stroke="#000" stroke-width="1"/>
<rect x="448.5" y="460.5" width="7" height="32" fill="url(#k40)" stroke="#000" stroke-width="1"/>
<rect x="459.5" y="460.5" width="7" height="32" fill="url(#k41)" stroke="#000" stroke-width="1"/>
<rect x="470.5" y="457.5" width="7" height="35" fill="#fff" stroke="#000" stroke-width="1"/>
<line x1="474.50" y1="457" x2="474.50" y2="493" stroke="#000" stroke-width="1"/>
<rect x="489.5" y="362.5" width="7" height="130" fill="url(#pAsc)" stroke="#000" stroke-width="1"/>
<rect x="500.5" y="433.5" width="7" height="59" fill="url(#k43)" stroke="#000" stroke-width="1"/>
<rect x="512.5" y="436.5" width="7" height="56" fill="url(#k44)" stroke="#000" stroke-width="1"/>
<rect x="523.5" y="431.5" width="7" height="61" fill="#fff" stroke="#000" stroke-width="1"/>
<line x1="526.50" y1="431" x2="526.50" y2="493" stroke="#000" stroke-width="1"/>
<rect x="542.5" y="347.5" width="7" height="145" fill="url(#pAsc)" stroke="#000" stroke-width="1"/>
<rect x="553.5" y="387.5" width="7" height="105" fill="url(#k46)" stroke="#000" stroke-width="1"/>
<rect x="564.5" y="402.5" width="7" height="90" fill="url(#k47)" stroke="#000" stroke-width="1"/>
<rect x="576.5" y="393.5" width="7" height="99" fill="#fff" stroke="#000" stroke-width="1"/>
<line x1="580.50" y1="393" x2="580.50" y2="493" stroke="#000" stroke-width="1"/>
<line x1="440.5" y1="367.5" x2="440.5" y2="396.5" stroke="#3a3a3a" stroke-width="1"/>
<rect x="438.5" y="366.9" width="4" height="1.3"/>
<rect x="438.5" y="395.8" width="4" height="1.3" fill="#222"/>
<line x1="452.5" y1="449.3" x2="452.5" y2="470.7" stroke="#3a3a3a" stroke-width="1"/>
<rect x="450.5" y="448.7" width="4" height="1.3"/>
<rect x="450.5" y="470.0" width="4" height="1.3" fill="#222"/>
<line x1="463.5" y1="450.3" x2="463.5" y2="469.7" stroke="#3a3a3a" stroke-width="1"/>
<rect x="461.5" y="449.6" width="4" height="1.3"/>
<rect x="461.5" y="469.1" width="4" height="1.3" fill="#222"/>
<line x1="474.5" y1="450.0" x2="474.5" y2="464.0" stroke="#3a3a3a" stroke-width="1"/>
<rect x="472.5" y="449.4" width="4" height="1.3"/>
<rect x="472.5" y="463.3" width="4" height="1.3" fill="#222"/>
<line x1="493.5" y1="355.1" x2="493.5" y2="368.9" stroke="#3a3a3a" stroke-width="1"/>
<rect x="491.5" y="354.5" width="4" height="1.3"/>
<rect x="491.5" y="368.2" width="4" height="1.3" fill="#222"/>
<line x1="504.5" y1="424.3" x2="504.5" y2="441.7" stroke="#3a3a3a" stroke-width="1"/>
<rect x="502.5" y="423.6" width="4" height="1.3"/>
<rect x="502.5" y="441.1" width="4" height="1.3" fill="#222"/>
<line x1="516.5" y1="433.0" x2="516.5" y2="439.0" stroke="#3a3a3a" stroke-width="1"/>
<rect x="514.5" y="432.4" width="4" height="1.3"/>
<rect x="514.5" y="438.3" width="4" height="1.3" fill="#222"/>
<line x1="527.5" y1="426.4" x2="527.5" y2="435.6" stroke="#3a3a3a" stroke-width="1"/>
<rect x="525.5" y="425.7" width="4" height="1.3"/>
<rect x="525.5" y="435.0" width="4" height="1.3" fill="#222"/>
<line x1="546.5" y1="342.7" x2="546.5" y2="351.3" stroke="#3a3a3a" stroke-width="1"/>
<rect x="544.5" y="342.1" width="4" height="1.3"/>
<rect x="544.5" y="350.6" width="4" height="1.3" fill="#222"/>
<line x1="557.5" y1="378.3" x2="557.5" y2="395.7" stroke="#3a3a3a" stroke-width="1"/>
<rect x="555.5" y="377.7" width="4" height="1.3"/>
<rect x="555.5" y="395.0" width="4" height="1.3" fill="#222"/>
<line x1="568.5" y1="392.8" x2="568.5" y2="411.2" stroke="#3a3a3a" stroke-width="1"/>
<rect x="566.5" y="392.2" width="4" height="1.3"/>
<rect x="566.5" y="410.5" width="4" height="1.3" fill="#222"/>
<line x1="580.5" y1="383.2" x2="580.5" y2="402.8" stroke="#3a3a3a" stroke-width="1"/>
<rect x="578.5" y="382.5" width="4" height="1.3"/>
<rect x="578.5" y="402.2" width="4" height="1.3" fill="#222"/>
<path d="M451.60,441.20L451.60,438.85M451.60,441.20L453.34,440.47M451.60,441.20L452.68,443.10M451.60,441.20L450.52,443.10M451.60,441.20L449.86,440.47" stroke="#000" stroke-width="1.02" fill="none"/>
<path d="M462.90,440.40L462.90,438.05M462.90,440.40L464.64,439.67M462.90,440.40L463.98,442.30M462.90,440.40L461.82,442.30M462.90,440.40L461.16,439.67" stroke="#000" stroke-width="1.02" fill="none"/>
<path d="M474.20,439.50L474.20,437.15M474.20,439.50L475.94,438.77M474.20,439.50L475.28,441.40M474.20,439.50L473.12,441.40M474.20,439.50L472.46,438.77" stroke="#000" stroke-width="1.02" fill="none"/>
<path d="M504.20,417.50L504.20,415.15M504.20,417.50L505.94,416.77M504.20,417.50L505.28,419.40M504.20,417.50L503.12,419.40M504.20,417.50L502.46,416.77" stroke="#000" stroke-width="1.02" fill="none"/>
<path d="M515.50,424.60L515.50,422.25M515.50,424.60L517.24,423.87M515.50,424.60L516.58,426.50M515.50,424.60L514.42,426.50M515.50,424.60L513.76,423.87" stroke="#000" stroke-width="1.02" fill="none"/>
<path d="M526.80,420.90L526.80,418.55M526.80,420.90L528.54,420.17M526.80,420.90L527.88,422.80M526.80,420.90L525.72,422.80M526.80,420.90L525.06,420.17" stroke="#000" stroke-width="1.02" fill="none"/>
<path d="M556.80,371.80L556.80,369.45M556.80,371.80L558.54,371.07M556.80,371.80L557.88,373.70M556.80,371.80L555.72,373.70M556.80,371.80L555.06,371.07" stroke="#000" stroke-width="1.02" fill="none"/>
<path d="M568.10,383.30L568.10,380.95M568.10,383.30L569.84,382.57M568.10,383.30L569.18,385.20M568.10,383.30L567.02,385.20M568.10,383.30L566.36,382.57" stroke="#000" stroke-width="1.02" fill="none"/>
<path d="M579.40,377.80L579.40,375.45M579.40,377.80L581.14,377.07M579.40,377.80L580.48,379.70M579.40,377.80L578.32,379.70M579.40,377.80L577.66,377.07" stroke="#000" stroke-width="1.02" fill="none"/>
<path d="M52.5,549.5H56.5V743.5H235" fill="none" stroke="#000" stroke-width="1"/>
<line x1="52.5" y1="743.5" x2="56.5" y2="743.5" stroke="#000" stroke-width="1"/>
<text transform="translate(52.00,748.45) scale(0.520,1)" font-size="15.0" font-weight="bold" text-anchor="end" stroke="#000" stroke-width="0.3">0</text>
<line x1="52.5" y1="678.5" x2="56.5" y2="678.5" stroke="#000" stroke-width="1"/>
<text transform="translate(52.00,683.58) scale(0.520,1)" font-size="15.0" font-weight="bold" text-anchor="end" stroke="#000" stroke-width="0.3">50</text>
<line x1="52.5" y1="613.5" x2="56.5" y2="613.5" stroke="#000" stroke-width="1"/>
<text transform="translate(52.00,618.72) scale(0.520,1)" font-size="15.0" font-weight="bold" text-anchor="end" stroke="#000" stroke-width="0.3">100</text>
<line x1="52.5" y1="549.5" x2="56.5" y2="549.5" stroke="#000" stroke-width="1"/>
<text transform="translate(52.00,553.85) scale(0.520,1)" font-size="15.0" font-weight="bold" text-anchor="end" stroke="#000" stroke-width="0.3">150</text>
<line x1="86.5" y1="743.5" x2="86.5" y2="748.5" stroke="#000" stroke-width="1"/>
<line x1="145.5" y1="743.5" x2="145.5" y2="748.5" stroke="#000" stroke-width="1"/>
<line x1="204.5" y1="743.5" x2="204.5" y2="748.5" stroke="#000" stroke-width="1"/>
<rect x="62.5" y="644.5" width="9" height="99" fill="url(#pAsc)" stroke="#000" stroke-width="1"/>
<rect x="76.0" y="741.0" width="7" height="2" fill="url(#k49)" stroke="#000" stroke-width="2"/>
<rect x="122.5" y="633.5" width="8" height="110" fill="url(#pAsc)" stroke="#000" stroke-width="1"/>
<rect x="135.0" y="740.0" width="8" height="3" fill="url(#k50)" stroke="#000" stroke-width="2"/>
<rect x="148.0" y="741.0" width="7" height="2" fill="url(#k51)" stroke="#000" stroke-width="2"/>
<rect x="161.0" y="742.0" width="7" height="1" fill="#fff" stroke="#000" stroke-width="2"/>
<line x1="164.50" y1="741" x2="164.50" y2="744" stroke="#000" stroke-width="1"/>
<rect x="181.5" y="619.5" width="8" height="124" fill="url(#pAsc)" stroke="#000" stroke-width="1"/>
<rect x="195.0" y="736.0" width="7" height="7" fill="url(#k53)" stroke="#000" stroke-width="2"/>
<rect x="207.0" y="735.0" width="8" height="8" fill="url(#k54)" stroke="#000" stroke-width="2"/>
<rect x="220.0" y="738.0" width="7" height="5" fill="#fff" stroke="#000" stroke-width="2"/>
<line x1="223.50" y1="737" x2="223.50" y2="744" stroke="#000" stroke-width="1"/>
<line x1="67" y1="641.6" x2="67" y2="646.4" stroke="#000" stroke-width="2"/>
<rect x="64.5" y="640.5" width="5" height="2.2"/>
<rect x="64.5" y="645.3" width="5" height="2.2" fill="#222"/>
<line x1="80" y1="737.0" x2="80" y2="743.0" stroke="#000" stroke-width="2"/>
<rect x="77.5" y="735.9" width="5" height="2.2"/>
<line x1="126.5" y1="630.1" x2="126.5" y2="635.9" stroke="#3a3a3a" stroke-width="1"/>
<rect x="124.5" y="629.4" width="4" height="1.3"/>
<rect x="124.5" y="635.3" width="4" height="1.3" fill="#222"/>
<line x1="139" y1="737.2" x2="139" y2="740.8" stroke="#000" stroke-width="2"/>
<rect x="136.5" y="736.1" width="5" height="2.2"/>
<rect x="136.5" y="739.7" width="5" height="2.2" fill="#222"/>
<line x1="152" y1="738.6" x2="152" y2="741.4" stroke="#000" stroke-width="2"/>
<rect x="149.5" y="737.5" width="5" height="2.2"/>
<rect x="149.5" y="740.3" width="5" height="2.2" fill="#222"/>
<line x1="185.5" y1="616.1" x2="185.5" y2="621.9" stroke="#3a3a3a" stroke-width="1"/>
<rect x="183.5" y="615.4" width="4" height="1.3"/>
<rect x="183.5" y="621.3" width="4" height="1.3" fill="#222"/>
<line x1="198" y1="731.5" x2="198" y2="738.5" stroke="#000" stroke-width="2"/>
<rect x="195.5" y="730.4" width="5" height="2.2"/>
<rect x="195.5" y="737.4" width="5" height="2.2" fill="#222"/>
<line x1="211" y1="729.6" x2="211" y2="738.4" stroke="#000" stroke-width="2"/>
<rect x="208.5" y="728.5" width="5" height="2.2"/>
<rect x="208.5" y="737.3" width="5" height="2.2" fill="#222"/>
<line x1="224" y1="735.1" x2="224" y2="738.9" stroke="#000" stroke-width="2"/>
<rect x="221.5" y="734.0" width="5" height="2.2"/>
<rect x="221.5" y="737.8" width="5" height="2.2" fill="#222"/>
<path d="M79.50,725.00L79.50,722.43M79.50,725.00L81.40,724.21M79.50,725.00L80.68,727.08M79.50,725.00L78.32,727.08M79.50,725.00L77.60,724.21" stroke="#000" stroke-width="1.12" fill="none"/>
<path d="M151.30,705.40L151.30,702.83M151.30,705.40L153.20,704.61M151.30,705.40L152.48,707.48M151.30,705.40L150.12,707.48M151.30,705.40L149.40,704.61" stroke="#000" stroke-width="1.12" fill="none"/>
<path d="M211.40,708.10L211.40,705.53M211.40,708.10L213.30,707.31M211.40,708.10L212.58,710.18M211.40,708.10L210.22,710.18M211.40,708.10L209.50,707.31" stroke="#000" stroke-width="1.12" fill="none"/>
<path d="M416.5,545.5H420.5V739.5H595.5" fill="none" stroke="#000" stroke-width="1"/>
<line x1="416.5" y1="739.5" x2="420.5" y2="739.5" stroke="#000" stroke-width="1"/>
<text transform="translate(416.20,743.85) scale(0.520,1)" font-size="15.0" font-weight="bold" text-anchor="end" stroke="#000" stroke-width="0.3">0</text>
<line x1="416.5" y1="700.5" x2="420.5" y2="700.5" stroke="#000" stroke-width="1"/>
<text transform="translate(416.20,705.17) scale(0.520,1)" font-size="15.0" font-weight="bold" text-anchor="end" stroke="#000" stroke-width="0.3">20</text>
<line x1="416.5" y1="661.5" x2="420.5" y2="661.5" stroke="#000" stroke-width="1"/>
<text transform="translate(416.20,666.49) scale(0.520,1)" font-size="15.0" font-weight="bold" text-anchor="end" stroke="#000" stroke-width="0.3">40</text>
<line x1="416.5" y1="623.5" x2="420.5" y2="623.5" stroke="#000" stroke-width="1"/>
<text transform="translate(416.20,627.81) scale(0.520,1)" font-size="15.0" font-weight="bold" text-anchor="end" stroke="#000" stroke-width="0.3">60</text>
<line x1="416.5" y1="584.5" x2="420.5" y2="584.5" stroke="#000" stroke-width="1"/>
<text transform="translate(416.20,589.13) scale(0.520,1)" font-size="15.0" font-weight="bold" text-anchor="end" stroke="#000" stroke-width="0.3">80</text>
<line x1="416.5" y1="545.5" x2="420.5" y2="545.5" stroke="#000" stroke-width="1"/>
<text transform="translate(416.20,550.45) scale(0.520,1)" font-size="15.0" font-weight="bold" text-anchor="end" stroke="#000" stroke-width="0.3">100</text>
<line x1="449.5" y1="739.5" x2="449.5" y2="744.5" stroke="#000" stroke-width="1"/>
<line x1="507.5" y1="739.5" x2="507.5" y2="744.5" stroke="#000" stroke-width="1"/>
<line x1="566.5" y1="739.5" x2="566.5" y2="744.5" stroke="#000" stroke-width="1"/>
<rect x="427.5" y="591.5" width="7" height="148" fill="url(#pAsc)" stroke="#000" stroke-width="1"/>
<rect x="440.5" y="600.5" width="7" height="139" fill="url(#k56)" stroke="#000" stroke-width="1"/>
<rect x="452.5" y="593.5" width="7" height="146" fill="url(#k57)" stroke="#000" stroke-width="1"/>
<rect x="464.5" y="591.5" width="8" height="148" fill="#fff" stroke="#000" stroke-width="1"/>
<line x1="468.50" y1="591" x2="468.50" y2="740" stroke="#000" stroke-width="1"/>
<rect x="485.5" y="573.5" width="7" height="166" fill="url(#pAsc)" stroke="#000" stroke-width="1"/>
<rect x="497.5" y="596.5" width="8" height="143" fill="url(#k59)" stroke="#000" stroke-width="1"/>
<rect x="510.5" y="590.5" width="7" height="149" fill="url(#k60)" stroke="#000" stroke-width="1"/>
<rect x="522.5" y="589.5" width="7" height="150" fill="#fff" stroke="#000" stroke-width="1"/>
<line x1="526.50" y1="589" x2="526.50" y2="740" stroke="#000" stroke-width="1"/>
<rect x="543.5" y="563.5" width="7" height="176" fill="url(#pAsc)" stroke="#000" stroke-width="1"/>
<rect x="555.5" y="594.5" width="8" height="145" fill="url(#k62)" stroke="#000" stroke-width="1"/>
<rect x="568.5" y="588.5" width="7" height="151" fill="url(#k63)" stroke="#000" stroke-width="1"/>
<rect x="580.5" y="582.5" width="7" height="157" fill="#fff" stroke="#000" stroke-width="1"/>
<line x1="584.50" y1="582" x2="584.50" y2="740" stroke="#000" stroke-width="1"/>
<line x1="431.5" y1="585.8" x2="431.5" y2="596.2" stroke="#3a3a3a" stroke-width="1"/>
<rect x="429.5" y="585.2" width="4" height="1.3"/>
<rect x="429.5" y="595.5" width="4" height="1.3" fill="#222"/>
<line x1="444.5" y1="594.1" x2="444.5" y2="605.9" stroke="#3a3a3a" stroke-width="1"/>
<rect x="442.5" y="593.5" width="4" height="1.3"/>
<rect x="442.5" y="605.2" width="4" height="1.3" fill="#222"/>
<line x1="456.5" y1="585.8" x2="456.5" y2="600.2" stroke="#3a3a3a" stroke-width="1"/>
<rect x="454.5" y="585.2" width="4" height="1.3"/>
<rect x="454.5" y="599.5" width="4" height="1.3" fill="#222"/>
<line x1="468.5" y1="585.8" x2="468.5" y2="596.2" stroke="#3a3a3a" stroke-width="1"/>
<rect x="466.5" y="585.2" width="4" height="1.3"/>
<rect x="466.5" y="595.5" width="4" height="1.3" fill="#222"/>
<line x1="489.5" y1="570.1" x2="489.5" y2="575.9" stroke="#3a3a3a" stroke-width="1"/>
<rect x="487.5" y="569.5" width="4" height="1.3"/>
<rect x="487.5" y="575.2" width="4" height="1.3" fill="#222"/>
<line x1="501.5" y1="593.6" x2="501.5" y2="598.4" stroke="#3a3a3a" stroke-width="1"/>
<rect x="499.5" y="592.9" width="4" height="1.3"/>
<rect x="499.5" y="597.8" width="4" height="1.3" fill="#222"/>
<line x1="514.5" y1="582.3" x2="514.5" y2="597.7" stroke="#3a3a3a" stroke-width="1"/>
<rect x="512.5" y="581.7" width="4" height="1.3"/>
<rect x="512.5" y="597.0" width="4" height="1.3" fill="#222"/>
<line x1="526.5" y1="585.4" x2="526.5" y2="592.6" stroke="#3a3a3a" stroke-width="1"/>
<rect x="524.5" y="584.8" width="4" height="1.3"/>
<rect x="524.5" y="591.9" width="4" height="1.3" fill="#222"/>
<line x1="547.5" y1="560.1" x2="547.5" y2="565.9" stroke="#3a3a3a" stroke-width="1"/>
<rect x="545.5" y="559.4" width="4" height="1.3"/>
<rect x="545.5" y="565.3" width="4" height="1.3" fill="#222"/>
<line x1="559.5" y1="590.5" x2="559.5" y2="597.5" stroke="#3a3a3a" stroke-width="1"/>
<rect x="557.5" y="589.8" width="4" height="1.3"/>
<rect x="557.5" y="596.9" width="4" height="1.3" fill="#222"/>
<line x1="572.5" y1="582.9" x2="572.5" y2="593.1" stroke="#3a3a3a" stroke-width="1"/>
<rect x="570.5" y="582.3" width="4" height="1.3"/>
<rect x="570.5" y="592.4" width="4" height="1.3" fill="#222"/>
<line x1="584.5" y1="579.4" x2="584.5" y2="584.6" stroke="#3a3a3a" stroke-width="1"/>
<rect x="582.5" y="578.8" width="4" height="1.3"/>
<rect x="582.5" y="583.9" width="4" height="1.3" fill="#222"/>
<path d="M501.50,587.10L501.50,584.75M501.50,587.10L503.24,586.37M501.50,587.10L502.58,589.00M501.50,587.10L500.42,589.00M501.50,587.10L499.76,586.37" stroke="#000" stroke-width="1.02" fill="none"/>
<path d="M514.00,577.70L514.00,575.35M514.00,577.70L515.74,576.97M514.00,577.70L515.08,579.60M514.00,577.70L512.92,579.60M514.00,577.70L512.26,576.97" stroke="#000" stroke-width="1.02" fill="none"/>
<path d="M526.50,579.70L526.50,577.35M526.50,579.70L528.24,578.97M526.50,579.70L527.58,581.60M526.50,579.70L525.42,581.60M526.50,579.70L524.76,578.97" stroke="#000" stroke-width="1.02" fill="none"/>
<path d="M559.50,583.90L559.50,581.55M559.50,583.90L561.24,583.17M559.50,583.90L560.58,585.80M559.50,583.90L558.42,585.80M559.50,583.90L557.76,583.17" stroke="#000" stroke-width="1.02" fill="none"/>
<path d="M571.80,577.20L571.80,574.85M571.80,577.20L573.54,576.47M571.80,577.20L572.88,579.10M571.80,577.20L570.72,579.10M571.80,577.20L570.06,576.47" stroke="#000" stroke-width="1.02" fill="none"/>
<path d="M584.30,575.20L584.30,572.85M584.30,575.20L586.04,574.47M584.30,575.20L585.38,577.10M584.30,575.20L583.22,577.10M584.30,575.20L582.56,574.47" stroke="#000" stroke-width="1.02" fill="none"/>
<path d="M137.5,708V718M137.5,713.5H169.5M169.5,708V718" stroke="#000" stroke-width="1" fill="none"/>
<path d="M193.5,708V718M193.5,713.5H226.5M226.5,708V718" stroke="#000" stroke-width="1" fill="none"/>
<rect x="256.5" y="13.5" width="14" height="11" fill="url(#pAsc)" stroke="#000" stroke-width="1"/>
<text transform="translate(278.40,23.87)" font-size="14.9" textLength="63.60" lengthAdjust="spacingAndGlyphs" stroke="#000" stroke-width="0.35">Ascorbic acid</text>
<rect x="256.5" y="35.5" width="14" height="11" fill="#fff" stroke="#000" stroke-width="1"/>
<path d="M259.60,36.00H262.20V39.33H259.60ZM264.80,36.00H267.40V39.33H264.80ZM257.00,39.33H259.60V42.67H257.00ZM262.20,39.33H264.80V42.67H262.20ZM267.40,39.33H270.00V42.67H267.40ZM259.60,42.67H262.20V46.00H259.60ZM264.80,42.67H267.40V46.00H264.80Z"/>
<text transform="translate(278.40,45.87)" font-size="14.9" textLength="49.10" lengthAdjust="spacingAndGlyphs" stroke="#000" stroke-width="0.35">Pepsin 1:8</text>
<rect x="256.5" y="57.5" width="14" height="11" fill="#fff" stroke="#000" stroke-width="1"/>
<path d="M256,61.5H271M256,65.5H271" stroke="#000" stroke-width="1"/>
<text transform="translate(278.40,67.87)" font-size="14.9" textLength="54.60" lengthAdjust="spacingAndGlyphs" stroke="#000" stroke-width="0.35">Pepsin 1:16</text>
<rect x="256.5" y="79.5" width="14" height="11" fill="#fff" stroke="#000" stroke-width="1"/>
<path d="M260.5,79V91M264.5,79V91M267.5,79V91" stroke="#000" stroke-width="1"/>
<text transform="translate(278.40,89.87)" font-size="14.9" textLength="54.60" lengthAdjust="spacingAndGlyphs" stroke="#000" stroke-width="0.35">Pepsin 1:32</text>
<rect x="624.5" y="15.5" width="13" height="11" fill="url(#pAsc)" stroke="#000" stroke-width="1"/>
<text transform="translate(645.40,26.50)" font-size="15.5" textLength="65.50" lengthAdjust="spacingAndGlyphs" stroke="#000" stroke-width="0.35">Ascorbic acid</text>
<rect x="624.5" y="39.5" width="13" height="11" fill="#fff" stroke="#000" stroke-width="1"/>
<path d="M627.40,40.00H629.80V43.33H627.40ZM632.20,40.00H634.60V43.33H632.20ZM625.00,43.33H627.40V46.67H625.00ZM629.80,43.33H632.20V46.67H629.80ZM634.60,43.33H637.00V46.67H634.60ZM627.40,46.67H629.80V50.00H627.40ZM632.20,46.67H634.60V50.00H632.20Z"/>
<text transform="translate(645.40,50.20)" font-size="15.5" textLength="51.30" lengthAdjust="spacingAndGlyphs" stroke="#000" stroke-width="0.35">Trypsin 1:8</text>
<rect x="624.5" y="63.5" width="13" height="11" fill="#fff" stroke="#000" stroke-width="1"/>
<path d="M624,67.5H638M624,71.5H638" stroke="#000" stroke-width="1"/>
<text transform="translate(645.40,73.90)" font-size="15.5" textLength="57.10" lengthAdjust="spacingAndGlyphs" stroke="#000" stroke-width="0.35">Trypsin 1:16</text>
<rect x="624.5" y="86.5" width="13" height="11" fill="#fff" stroke="#000" stroke-width="1"/>
<path d="M628.5,86V98M631.5,86V98M634.5,86V98" stroke="#000" stroke-width="1"/>
<text transform="translate(645.40,97.60)" font-size="15.5" textLength="57.10" lengthAdjust="spacingAndGlyphs" stroke="#000" stroke-width="0.35">Trypsin 1:32</text>
<rect x="254.5" y="340.5" width="12" height="9" fill="url(#pAsc)" stroke="#000" stroke-width="1"/>
<text transform="translate(274.30,349.49)" font-size="13.4" textLength="49.10" lengthAdjust="spacingAndGlyphs" stroke="#000" stroke-width="0.35">Glutathione</text>
<rect x="254.5" y="359.5" width="12" height="9" fill="#fff" stroke="#000" stroke-width="1"/>
<path d="M257.20,360.00H259.40V362.67H257.20ZM261.60,360.00H263.80V362.67H261.60ZM255.00,362.67H257.20V365.33H255.00ZM259.40,362.67H261.60V365.33H259.40ZM263.80,362.67H266.00V365.33H263.80ZM257.20,365.33H259.40V368.00H257.20ZM261.60,365.33H263.80V368.00H261.60Z"/>
<text transform="translate(274.30,368.76)" font-size="13.4" textLength="45.36" lengthAdjust="spacingAndGlyphs" stroke="#000" stroke-width="0.35">Pepsin 1:8</text>
<rect x="254.5" y="378.5" width="12" height="9" fill="#fff" stroke="#000" stroke-width="1"/>
<path d="M254,381.5H267M254,385.5H267" stroke="#000" stroke-width="1"/>
<text transform="translate(274.30,388.03)" font-size="13.4" textLength="50.70" lengthAdjust="spacingAndGlyphs" stroke="#000" stroke-width="0.35">Pepsin 1:16</text>
<rect x="254.5" y="398.5" width="12" height="9" fill="#fff" stroke="#000" stroke-width="1"/>
<path d="M257.5,398V408M260.5,398V408M264.5,398V408" stroke="#000" stroke-width="1"/>
<text transform="translate(274.30,407.30)" font-size="13.4" textLength="50.70" lengthAdjust="spacingAndGlyphs" stroke="#000" stroke-width="0.35">Pepsin 1:32</text>
<rect x="600.5" y="316.5" width="11" height="10" fill="url(#pAsc)" stroke="#000" stroke-width="1"/>
<text transform="translate(618.90,325.67)" font-size="14.2" textLength="42.20" lengthAdjust="spacingAndGlyphs" stroke="#000" stroke-width="0.35">Glutathione</text>
<rect x="600.5" y="337.5" width="11" height="10" fill="#fff" stroke="#000" stroke-width="1"/>
<path d="M603.00,338.00H605.00V341.00H603.00ZM607.00,338.00H609.00V341.00H607.00ZM601.00,341.00H603.00V344.00H601.00ZM605.00,341.00H607.00V344.00H605.00ZM609.00,341.00H611.00V344.00H609.00ZM603.00,344.00H605.00V347.00H603.00ZM607.00,344.00H609.00V347.00H607.00Z"/>
<text transform="translate(618.90,346.84)" font-size="14.2" textLength="43.10" lengthAdjust="spacingAndGlyphs" stroke="#000" stroke-width="0.35">Trypsin 1:8</text>
<rect x="600.5" y="358.5" width="11" height="10" fill="#fff" stroke="#000" stroke-width="1"/>
<path d="M600,362.5H612M600,365.5H612" stroke="#000" stroke-width="1"/>
<text transform="translate(618.90,368.01)" font-size="14.2" textLength="48.00" lengthAdjust="spacingAndGlyphs" stroke="#000" stroke-width="0.35">Trypsin 1:16</text>
<rect x="600.5" y="379.5" width="11" height="10" fill="#fff" stroke="#000" stroke-width="1"/>
<path d="M603.5,379V390M606.5,379V390M609.5,379V390" stroke="#000" stroke-width="1"/>
<text transform="translate(618.90,389.18)" font-size="14.2" textLength="48.00" lengthAdjust="spacingAndGlyphs" stroke="#000" stroke-width="0.35">Trypsin 1:32</text>
<rect x="247.5" y="556.5" width="13" height="11" fill="url(#pAsc)" stroke="#000" stroke-width="1"/>
<text transform="translate(268.10,566.90)" font-size="14.8" textLength="24.89" lengthAdjust="spacingAndGlyphs" stroke="#000" stroke-width="0.35">EDTA</text>
<rect x="248.0" y="579.0" width="12" height="10" fill="#fff" stroke="#000" stroke-width="2"/>
<path d="M251.00,580.00H253.00V582.67H251.00ZM255.00,580.00H257.00V582.67H255.00ZM249.00,582.67H251.00V585.33H249.00ZM253.00,582.67H255.00V585.33H253.00ZM257.00,582.67H259.00V585.33H257.00ZM251.00,585.33H253.00V588.00H251.00ZM255.00,585.33H257.00V588.00H255.00Z"/>
<rect x="248.0" y="579.0" width="12" height="10" fill="none" stroke="#000" stroke-width="2"/>
<text transform="translate(268.10,588.90)" font-size="14.8" textLength="45.36" lengthAdjust="spacingAndGlyphs" stroke="#000" stroke-width="0.35">Pepsin 1:8</text>
<rect x="248.0" y="601.0" width="12" height="10" fill="#fff" stroke="#000" stroke-width="2"/>
<path d="M247,604.5H261M247,608.5H261" stroke="#000" stroke-width="2"/>
<rect x="248.0" y="601.0" width="12" height="10" fill="none" stroke="#000" stroke-width="2"/>
<text transform="translate(268.10,610.90)" font-size="14.8" textLength="50.70" lengthAdjust="spacingAndGlyphs" stroke="#000" stroke-width="0.35">Pepsin 1:16</text>
<rect x="248.0" y="623.0" width="12" height="10" fill="#fff" stroke="#000" stroke-width="2"/>
<path d="M251.5,622V634M254.5,622V634M257.5,622V634" stroke="#000" stroke-width="2"/>
<rect x="248.0" y="623.0" width="12" height="10" fill="none" stroke="#000" stroke-width="2"/>
<text transform="translate(268.10,632.90)" font-size="14.8" textLength="50.70" lengthAdjust="spacingAndGlyphs" stroke="#000" stroke-width="0.35">Pepsin 1:32</text>
<rect x="608.5" y="553.5" width="12" height="10" fill="url(#pAsc)" stroke="#000" stroke-width="1"/>
<text transform="translate(628.20,563.05)" font-size="14.6" textLength="24.89" lengthAdjust="spacingAndGlyphs" stroke="#000" stroke-width="0.35">EDTA</text>
<rect x="608.5" y="575.5" width="12" height="10" fill="#fff" stroke="#000" stroke-width="1"/>
<path d="M611.20,576.00H613.40V579.00H611.20ZM615.60,576.00H617.80V579.00H615.60ZM609.00,579.00H611.20V582.00H609.00ZM613.40,579.00H615.60V582.00H613.40ZM617.80,579.00H620.00V582.00H617.80ZM611.20,582.00H613.40V585.00H611.20ZM615.60,582.00H617.80V585.00H615.60Z"/>
<text transform="translate(628.20,585.25)" font-size="14.6" textLength="47.13" lengthAdjust="spacingAndGlyphs" stroke="#000" stroke-width="0.35">Trypsin 1:8</text>
<rect x="608.5" y="597.5" width="12" height="10" fill="#fff" stroke="#000" stroke-width="1"/>
<path d="M608,601.5H621M608,604.5H621" stroke="#000" stroke-width="1"/>
<text transform="translate(628.20,607.45)" font-size="14.6" textLength="52.46" lengthAdjust="spacingAndGlyphs" stroke="#000" stroke-width="0.35">Trypsin 1:16</text>
<rect x="608.5" y="619.5" width="12" height="10" fill="#fff" stroke="#000" stroke-width="1"/>
<path d="M611.5,619V630M614.5,619V630M618.5,619V630" stroke="#000" stroke-width="1"/>
<text transform="translate(628.20,629.65)" font-size="14.6" textLength="52.46" lengthAdjust="spacingAndGlyphs" stroke="#000" stroke-width="0.35">Trypsin 1:32</text>
<text transform="translate(17.60,103.30) scale(0.720,1) rotate(-90)" font-size="13.2" text-anchor="middle" textLength="195.50" lengthAdjust="spacingAndGlyphs" stroke="#000" stroke-width="0.15">DPPH radical scavenging activity</text>
<text transform="translate(28.40,101.00) scale(0.720,1) rotate(-90)" font-size="13.2" text-anchor="middle" textLength="20.00" lengthAdjust="spacingAndGlyphs" stroke="#000" stroke-width="0.15">(%)</text>
<text transform="translate(388.60,112.20) scale(0.530,1) rotate(-90)" font-size="13.6" font-weight="bold" text-anchor="middle" textLength="214.30" lengthAdjust="spacingAndGlyphs" stroke="#000" stroke-width="0.3">DPPH radical scavenging activity</text>
<text transform="translate(397.60,111.00) scale(0.530,1) rotate(-90)" font-size="13.6" font-weight="bold" text-anchor="middle" textLength="18.00" lengthAdjust="spacingAndGlyphs" stroke="#000" stroke-width="0.3">(%)</text>
<text transform="translate(20.40,413.90) scale(0.720,1) rotate(-90)" font-size="12.2" font-weight="bold" text-anchor="middle" textLength="105.50" lengthAdjust="spacingAndGlyphs" stroke="#000" stroke-width="0.3">Hydrogen peroxide</text>
<text transform="translate(31.20,417.60) scale(0.720,1) rotate(-90)" font-size="12.4" font-weight="bold" text-anchor="middle" textLength="128.70" lengthAdjust="spacingAndGlyphs" stroke="#000" stroke-width="0.3">scavenging ability (%)</text>
<text transform="translate(394.60,400.50) scale(0.580,1) rotate(-90)" font-size="13.8" font-weight="bold" text-anchor="middle" textLength="123.50" lengthAdjust="spacingAndGlyphs" stroke="#000" stroke-width="0.3">Hydrogen peroxide</text>
<text transform="translate(403.80,399.90) scale(0.580,1) rotate(-90)" font-size="13.6" font-weight="bold" text-anchor="middle" textLength="141.00" lengthAdjust="spacingAndGlyphs" stroke="#000" stroke-width="0.3">scavenging ability (%)</text>
<text transform="translate(32.60,646.00) scale(0.68,1) rotate(-90)" font-size="13.2" text-anchor="middle" textLength="148" lengthAdjust="spacingAndGlyphs">Fe<tspan font-size="10.3" dy="-6.3">2+</tspan><tspan dy="6.3">-chelating ability(%)</tspan></text>
<text transform="translate(397.00,641.20) scale(0.68,1) rotate(-90)" font-size="13.2" text-anchor="middle" textLength="147.6" lengthAdjust="spacingAndGlyphs">Fe<tspan font-size="10.3" dy="-6.3">2+</tspan><tspan dy="6.3">-chelating ability(%)</tspan></text>
<text transform="translate(-1.00,250.00)" font-size="19.8" font-weight="bold">a</text>
<text transform="translate(359.40,240.10)" font-size="19.4" font-weight="bold">b</text>
<text transform="translate(0.30,522.70)" font-size="19.5" font-weight="bold">c</text>
<text transform="translate(382.40,512.40)" font-size="19.6" font-weight="bold">d</text>
<text transform="translate(8.30,764.20)" font-size="19.5" font-weight="bold">e</text>
<text transform="translate(378.70,757.70)" font-size="19.4" font-weight="bold">f</text>
<text transform="translate(74.10,217.50) scale(0.780,1) rotate(-50)" font-size="10.8" font-weight="bold" font-style="italic" text-anchor="end" stroke="#000" stroke-width="0.25">0.02 mg/ml</text>
<text transform="translate(112.10,217.50) scale(0.780,1) rotate(-50)" font-size="10.8" font-weight="bold" font-style="italic" text-anchor="end" stroke="#000" stroke-width="0.25">0.04 mg/ml</text>
<text transform="translate(150.10,217.50) scale(0.780,1) rotate(-50)" font-size="10.8" font-weight="bold" font-style="italic" text-anchor="end" stroke="#000" stroke-width="0.25">0.06 mg/ml</text>
<text transform="translate(188.10,217.50) scale(0.780,1) rotate(-50)" font-size="10.8" font-weight="bold" font-style="italic" text-anchor="end" stroke="#000" stroke-width="0.25">0.08 mg/ml</text>
<text transform="translate(226.10,217.50) scale(0.780,1) rotate(-50)" font-size="10.8" font-weight="bold" font-style="italic" text-anchor="end" stroke="#000" stroke-width="0.25">0.10 mg/ml</text>
<text transform="translate(442.60,235.50) scale(0.720,1) rotate(-50)" font-size="12.0" font-weight="bold" font-style="italic" text-anchor="end" stroke="#000" stroke-width="0.2">0.02mg/ml</text>
<text transform="translate(480.20,235.50) scale(0.720,1) rotate(-50)" font-size="12.0" font-weight="bold" font-style="italic" text-anchor="end" stroke="#000" stroke-width="0.2">0.04mg/ml</text>
<text transform="translate(517.80,235.50) scale(0.720,1) rotate(-50)" font-size="12.0" font-weight="bold" font-style="italic" text-anchor="end" stroke="#000" stroke-width="0.2">0.06mg/ml</text>
<text transform="translate(555.40,235.50) scale(0.720,1) rotate(-50)" font-size="12.0" font-weight="bold" font-style="italic" text-anchor="end" stroke="#000" stroke-width="0.2">0.08mg/ml</text>
<text transform="translate(593.00,235.50) scale(0.720,1) rotate(-50)" font-size="12.0" font-weight="bold" font-style="italic" text-anchor="end" stroke="#000" stroke-width="0.2">0.10mg/ml</text>
<text transform="translate(91.50,517.90)" font-size="11.0" font-weight="bold" text-anchor="middle" textLength="34.40" lengthAdjust="spacingAndGlyphs" stroke="#000" stroke-width="0.3">0.2mg/ml</text>
<text transform="translate(150.70,517.90)" font-size="11.0" font-weight="bold" text-anchor="middle" textLength="34.40" lengthAdjust="spacingAndGlyphs" stroke="#000" stroke-width="0.3">0.5mg/ml</text>
<text transform="translate(209.90,517.90)" font-size="11.0" font-weight="bold" text-anchor="middle" textLength="34.40" lengthAdjust="spacingAndGlyphs" stroke="#000" stroke-width="0.3">1.0mg/ml</text>
<text transform="translate(457.10,510.90)" font-size="12.8" font-weight="bold" text-anchor="middle" textLength="33.30" lengthAdjust="spacingAndGlyphs" stroke="#000" stroke-width="0.3">0.2mg/ml</text>
<text transform="translate(509.95,510.90)" font-size="12.8" font-weight="bold" text-anchor="middle" textLength="33.30" lengthAdjust="spacingAndGlyphs" stroke="#000" stroke-width="0.3">0.5mg/ml</text>
<text transform="translate(562.80,510.90)" font-size="12.8" font-weight="bold" text-anchor="middle" textLength="33.30" lengthAdjust="spacingAndGlyphs" stroke="#000" stroke-width="0.3">1.0mg/ml</text>
<text transform="translate(85.90,762.90)" font-size="13.8" font-weight="bold" text-anchor="middle" textLength="37.60" lengthAdjust="spacingAndGlyphs" stroke="#000" stroke-width="0.3">0.2mg/ml</text>
<text transform="translate(145.20,762.90)" font-size="13.8" font-weight="bold" text-anchor="middle" textLength="37.60" lengthAdjust="spacingAndGlyphs" stroke="#000" stroke-width="0.3">0.5mg/ml</text>
<text transform="translate(204.50,762.90)" font-size="13.8" font-weight="bold" text-anchor="middle" textLength="37.60" lengthAdjust="spacingAndGlyphs" stroke="#000" stroke-width="0.3">1.0mg/ml</text>
<text transform="translate(449.50,758.30)" font-size="13.4" font-weight="bold" text-anchor="middle" textLength="37.00" lengthAdjust="spacingAndGlyphs" stroke="#000" stroke-width="0.3">0.2mg/ml</text>
<text transform="translate(507.70,758.30)" font-size="13.4" font-weight="bold" text-anchor="middle" textLength="37.00" lengthAdjust="spacingAndGlyphs" stroke="#000" stroke-width="0.3">0.5mg/ml</text>
<text transform="translate(565.90,758.30)" font-size="13.4" font-weight="bold" text-anchor="middle" textLength="37.00" lengthAdjust="spacingAndGlyphs" stroke="#000" stroke-width="0.3">1.0mg/ml</text>
</svg>
</body></html>
